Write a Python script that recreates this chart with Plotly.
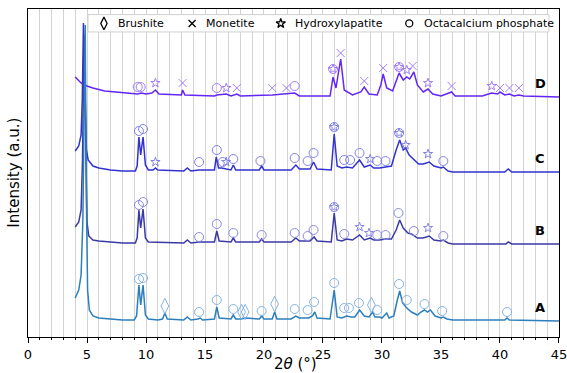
import plotly.graph_objects as go

# ---------------- data (2theta in degrees, intensity in a.u. above each pattern's baseline) ----------------
# Vertical offsets used to stack the patterns
offset_A, offset_B, offset_C, offset_D = 17, 94, 166, 241

A_x = [4.0, 4.3, 4.5, 4.65, 4.75, 4.85, 4.95, 5.05, 5.2, 5.5, 6.0, 7.0, 8.0, 9.0, 9.2, 9.4, 9.55, 9.75, 9.95, 10.2,
       11.0, 11.4, 11.6, 11.8, 13.2, 13.5, 13.8, 14.4, 14.6, 14.8, 15.8, 16.0, 16.2, 17.2, 17.4, 17.6, 18.1, 18.4,
       19.6, 19.8, 20.0, 20.7, 20.9, 21.1, 22.3, 22.7, 23.0, 23.5, 23.8, 24.1, 24.3, 24.5, 25.6, 25.95, 26.2, 26.6,
       27.0, 27.4, 27.7, 28.1, 28.5, 28.9, 29.2, 29.4, 29.8, 30.0, 30.4, 30.6, 31.0, 31.3, 31.5, 31.75, 32.1, 32.5,
       33.0, 33.3, 33.6, 33.85, 34.1, 34.5, 35.0, 35.2, 35.5, 36.0, 40.4, 40.6, 40.8, 45.0]
A_y = [22, 30, 45, 100, 200, 295, 120, 30, 10, 4, 2, 1, 0, 0, 4, 35, 15, 35, 5, 1,
       0, 1, 7, 1, 0, 3, 0, 1, 2, 0, 1, 13, 2, 1, 5, 1, 1, 2,
       1, 4, 1, 1, 8, 1, 1, 4, 2, 2, 2, 4, 8, 2, 1, 30, 3, 2,
       4, 3, 3, 10, 4, 3, 8, 3, 3, 2, 7, 2, 4, 20, 29, 17, 12, 8,
       5, 8, 10, 8, 10, 4, 2, 3, 1, 0, 0, 2, 0, -1]

B_x = [4.0, 4.3, 4.5, 4.62, 4.75, 4.88, 5.0, 5.15, 5.5, 6.0, 7.0, 8.0, 9.1, 9.25, 9.4, 9.55, 9.75, 9.95, 10.2,
       13.2, 13.5, 13.8, 14.5, 15.8, 16.0, 16.2, 17.2, 17.4, 17.6, 18.3, 19.6, 19.8, 20.0, 22.3, 22.7, 23.0, 23.9,
       24.25, 24.5, 25.7, 25.95, 26.2, 26.6, 27.0, 27.5, 28.1, 28.5, 29.0, 29.3, 29.8, 30.3, 30.8, 31.2, 31.5, 31.8,
       32.2, 32.5, 33.0, 33.5, 34.0, 34.4, 35.0, 35.2, 35.6, 36.0, 40.5, 40.7, 41.0, 45.0]
B_y = [16, 21, 33, 83, 208, 93, 21, 7, 3, 2, 1, 0, 0, 5, 33, 15, 34, 5, 1,
       0, 3, 0, 1, 1, 12, 2, 1, 5, 1, 1, 1, 4, 1, 1, 5, 2, 2,
       6, 2, 1, 30, 3, 2, 4, 3, 8, 3, 5, 3, 3, 4, 4, 13, 23, 15,
       10, 9, 5, 5, 7, 3, 2, 3, 0, -1, -1, 1, -1, -1]

C_x = [4.0, 4.3, 4.5, 4.6, 4.7, 4.82, 4.95, 5.1, 5.5, 6.0, 7.0, 8.0, 9.1, 9.25, 9.4, 9.55, 9.75, 9.95, 10.2, 10.6,
       10.8, 11.0, 13.2, 13.5, 13.8, 14.5, 15.8, 15.95, 16.15, 16.4, 17.2, 17.4, 17.6, 19.6, 19.8, 20.0, 22.3, 22.7,
       23.0, 23.9, 24.2, 24.5, 25.7, 25.95, 26.2, 26.6, 27.0, 27.5, 28.1, 28.5, 29.0, 29.3, 29.8, 30.3, 30.8, 31.2,
       31.5, 31.8, 32.0, 32.3, 32.7, 33.1, 33.5, 34.0, 34.4, 35.0, 35.2, 35.6, 36.0, 40.4, 40.7, 41.0, 45.0]
C_y = [20, 25, 36, 71, 148, 71, 21, 11, 5, 3, 1, 0, 0, 5, 34, 16, 34, 6, 1, 1,
       3, 1, 0, 3, 0, 1, 1, 14, 3, 3, 1, 6, 1, 1, 5, 1, 1, 6,
       2, 2, 9, 2, 1, 37, 5, 3, 4, 3, 11, 4, 6, 3, 3, 4, 5, 21,
       31, 21, 23, 16, 11, 7, 7, 9, 5, 3, 4, 0, -1, -1, 2, -1, -1]

D_x = [4.0, 4.5, 5.0, 5.5, 6.5, 8.0, 9.3, 9.6, 10.0, 10.5, 10.8, 11.1, 12.5, 13.0, 13.1, 13.3, 15.8, 16.0, 16.8,
       17.2, 17.7, 18.0, 20.7, 21.9, 22.6, 23.0, 25.6, 25.85, 26.1, 26.5, 26.8, 27.5, 28.2, 28.5, 28.9, 29.6, 29.9,
       30.1, 30.4, 30.9, 31.2, 31.45, 31.8, 32.1, 32.35, 32.7, 33.0, 33.5, 33.9, 34.3, 35.0, 35.9, 36.2, 38.5, 39.3,
       39.8, 40.0, 40.4, 40.8, 41.2, 41.6, 42.0, 45.0]
D_y = [19, 13, 10, 8, 5, 3, 2, 3, 2, 3, 6, 2, 1, 1, 6, 1, 0, 1, 2,
       0, 2, 0, 1, 2, 3, 0, 0, 19, 8, 37, 6, 1, 4, 9, 2, 1, 11,
       22, 8, 5, 16, 23, 16, 19, 17, 24, 11, 4, 7, 2, 0, 4, 0, 0, 3,
       2, 4, 1, 2, 0, 1, 0, -1]

# Phase markers (position, height above baseline)
A_ocp_x = [9.4, 9.75, 14.5, 16.0, 17.4, 19.8, 22.6, 23.7, 24.25, 25.95, 26.8, 27.2, 28.05, 29.6, 31.45, 32.1, 33.6, 35.1, 40.6]
A_ocp_y = [41, 42, 8, 20, 11, 9, 11, 10, 18, 37, 12, 12, 17, 10, 36, 20, 16, 9, 8]
A_bru_x = [11.6, 18.1, 18.4, 20.9, 29.1]
A_bru_y = [14, 8, 8, 16, 15]

B_ocp_x = [9.4, 9.75, 14.5, 16.0, 17.4, 19.8, 22.6, 23.7, 24.2, 25.95, 26.8, 29.6, 30.3, 31.4, 32.7, 35.2]
B_ocp_y = [38, 41, 6, 19, 10, 8, 10, 7, 13, 36, 9, 8, 8, 30, 12, 7]
B_hap_x = [25.95, 28.1, 28.9, 33.9]
B_hap_y = [36, 16, 10, 15]

C_ocp_x = [9.4, 9.75, 14.5, 16.0, 16.5, 17.4, 19.7, 22.6, 23.7, 24.2, 25.95, 26.8, 27.3, 28.1, 29.6, 30.3, 31.45, 35.2]
C_ocp_y = [40, 42, 9, 21, 9, 12, 10, 13, 10, 18, 44, 11, 11, 18, 10, 10, 38, 10]
C_hap_x = [10.8, 16.8, 25.95, 29.0, 31.45, 32.0, 33.9]
C_hap_y = [9, 9, 44, 12, 38, 26, 17]

D_ocp_x = [9.3, 9.55, 16.0, 22.6, 25.85, 31.45]
D_ocp_y = [9, 9, 8, 10, 27, 29]
D_mon_x = [13.1, 17.7, 20.7, 21.9, 26.5, 28.5, 30.1, 32.6, 35.9, 40.0, 40.8, 41.6]
D_mon_y = [13, 8, 8, 8, 43, 15, 28, 30, 10, 8, 8, 8]
D_hap_x = [10.8, 16.8, 25.85, 31.45, 32.1, 33.9, 39.3]
D_hap_y = [13, 8, 27, 29, 26, 13, 10]

sample_labels = ["A", "B", "C", "D"]
phase_names = ["Brushite", "Monetite", "Hydroxylapatite", "Octacalcium phosphate"]
x_ticks = [0, 5, 10, 15, 20, 25, 30, 35, 40, 45]

# ---------------- styles ----------------
col_A, col_B, col_C, col_D = "#2b7fbd", "#3a3aa6", "#3232cf", "#6326f5"
mk_A, mk_B, mk_C, mk_D = "#86b4e2", "#8a8ae0", "#8383e6", "#a47ff5"
FONT = "DejaVu Sans"

fig = go.Figure()


def add_line(xs, ys, off, color):
    fig.add_trace(go.Scatter(x=xs, y=[v + off for v in ys], mode="lines",
                             line=dict(color=color, width=1.5), showlegend=False, hoverinfo="skip"))


def add_marks(xs, ys, off, color, symbol, size):
    fig.add_trace(go.Scatter(x=xs, y=[v + off for v in ys], mode="markers",
                             marker=dict(symbol=symbol, size=size, color=color,
                                         line=dict(color=color, width=1)),
                             showlegend=False, hoverinfo="skip"))


# lines (draw A last so its sharp first reflection is on top like the reference)
add_line(D_x, D_y, offset_D, col_D)
add_line(C_x, C_y, offset_C, col_C)
add_line(B_x, B_y, offset_B, col_B)
add_line(A_x, A_y, offset_A, col_A)

# markers
add_marks(A_ocp_x, A_ocp_y, offset_A, mk_A, "circle-open", 9)
add_marks(A_bru_x, A_bru_y, offset_A, mk_A, "diamond-tall-open", 11)
add_marks(B_ocp_x, B_ocp_y, offset_B, mk_B, "circle-open", 9)
add_marks(B_hap_x, B_hap_y, offset_B, mk_B, "star-open", 7)
add_marks(C_ocp_x, C_ocp_y, offset_C, mk_C, "circle-open", 9)
add_marks(C_hap_x, C_hap_y, offset_C, mk_C, "star-open", 7)
add_marks(D_ocp_x, D_ocp_y, offset_D, mk_D, "circle-open", 9)
add_marks(D_mon_x, D_mon_y, offset_D, mk_D, "x-thin-open", 8)
add_marks(D_hap_x, D_hap_y, offset_D, mk_D, "star-open", 7)

# sample labels
label_x = 43.4
for lab, off in zip(sample_labels, [offset_A, offset_B, offset_C, offset_D]):
    fig.add_annotation(x=label_x, y=off + 13, text=f"<b>{lab}</b>", showarrow=False,
                       font=dict(family=FONT, size=13, color="black"))

# ---------------- manual legend (overlay axes spanning the plot area 0..1) ----------------
leg_box_x = [0.113, 0.981, 0.981, 0.113, 0.113]
leg_box_y = [0.930, 0.930, 0.983, 0.983, 0.930]
fig.add_trace(go.Scatter(x=leg_box_x, y=leg_box_y, xaxis="x2", yaxis="y2", mode="lines", fill="toself",
                         fillcolor="white", line=dict(color="#d0d0d0", width=1),
                         showlegend=False, hoverinfo="skip"))
leg_sym_x = [0.143, 0.309, 0.476, 0.718]
leg_txt_x = [0.166, 0.331, 0.499, 0.742]
leg_syms = ["diamond-tall-open", "x-thin-open", "star-open", "circle-open"]
leg_sizes = [9, 7, 7, 7]
leg_y = 0.956
for sx, sym, sz in zip(leg_sym_x, leg_syms, leg_sizes):
    fig.add_trace(go.Scatter(x=[sx], y=[leg_y], xaxis="x2", yaxis="y2", mode="markers",
                             marker=dict(symbol=sym, size=sz, color="black", line=dict(color="black", width=1.3)),
                             showlegend=False, hoverinfo="skip"))
for tx, name in zip(leg_txt_x, phase_names):
    fig.add_annotation(xref="paper", yref="paper", x=tx, y=leg_y, text=name, showarrow=False,
                       xanchor="left", yanchor="middle", font=dict(family=FONT, size=11, color="black"))

# axis titles
fig.add_annotation(xref="paper", yref="paper", x=-0.027, y=0.5, text="Intensity (a.u.)", textangle=-90,
                   showarrow=False, xanchor="center", yanchor="middle",
                   font=dict(family=FONT, size=15, color="black"))
fig.add_annotation(xref="paper", yref="paper", x=0.503, y=-0.083, text="2<i>θ</i> (°)",
                   showarrow=False, xanchor="center", yanchor="middle",
                   font=dict(family=FONT, size=15, color="black"))

fig.update_layout(
    width=567, height=373,
    margin=dict(l=28, r=8, t=9, b=36, autoexpand=False),
    paper_bgcolor="white", plot_bgcolor="white",
    font=dict(family=FONT, color="black"),
    showlegend=False,
    xaxis=dict(range=[0, 45.001], tickvals=x_ticks, ticks="outside", ticklen=5, tickwidth=1, tickcolor="black",
               tickfont=dict(family=FONT, size=13, color="black"), ticklabeloverflow="allow", automargin=False,
               showgrid=True, gridcolor="#d3d3d3", gridwidth=1,
               minor=dict(dtick=1, ticks="outside", ticklen=2, tickcolor="black", showgrid=True,
                          gridcolor="#d3d3d3", gridwidth=1),
               showline=True, linecolor="black", linewidth=1, mirror=True, zeroline=False),
    yaxis=dict(range=[0, 328], showticklabels=False, ticks="", showgrid=False, zeroline=False, automargin=False,
               showline=True, linecolor="black", linewidth=1, mirror=True),
    xaxis2=dict(range=[0, 1], overlaying="x", visible=False),
    yaxis2=dict(range=[0, 1], overlaying="y", visible=False),
)

fig.write_html("out.html")
